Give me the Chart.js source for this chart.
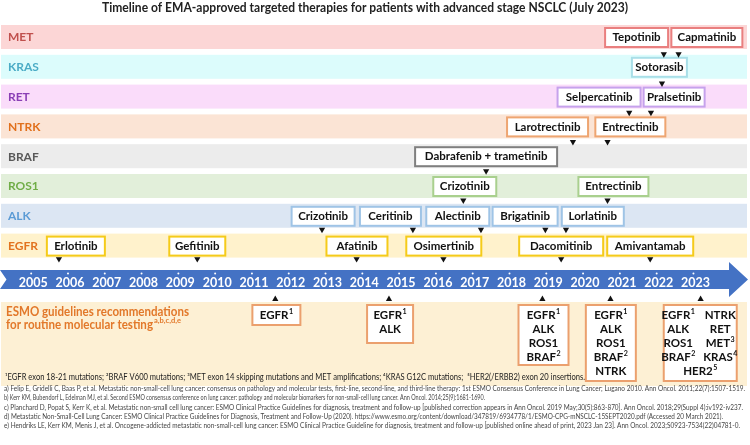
<!DOCTYPE html>
<html>
<head>
<meta charset="utf-8">
<script src="https://cdn.jsdelivr.net/npm/chart.js@4.4.0/dist/chart.umd.min.js"></script>
<style>
  html, body { margin: 0; padding: 0; background: #fff; }
  #wrap { width: 750px; height: 445px; position: relative; }
</style>
</head>
<body>
<div id="wrap"><canvas id="timeline"></canvas></div>
<script>
// ---- data ----
const years = [2005, 2006, 2007, 2008, 2009, 2010, 2011, 2012, 2013, 2014, 2015, 2016, 2017, 2018, 2019, 2020, 2021, 2022, 2023]
const biomarkers = ['MET', 'KRAS', 'RET', 'NTRK', 'BRAF', 'ROS1', 'ALK', 'EGFR']

// [biomarker, drug, approval date (fractional year)]
const approvals = [
  ['MET', 'Tepotinib', 2022.14],
  ['MET', 'Capmatinib', 2022.54],
  ['KRAS', 'Sotorasib', 2022.09],
  ['RET', 'Selpercatinib', 2021.20],
  ['RET', 'Pralsetinib', 2021.79],
  ['NTRK', 'Larotrectinib', 2019.67],
  ['NTRK', 'Entrectinib', 2020.61],
  ['BRAF', 'Dabrafenib + trametinib', 2017.31],
  ['ROS1', 'Crizotinib', 2016.69],
  ['ROS1', 'Entrectinib', 2020.61],
  ['ALK', 'Crizotinib', 2012.85],
  ['ALK', 'Ceritinib', 2015.32],
  ['ALK', 'Alectinib', 2017.17],
  ['ALK', 'Brigatinib', 2018.92],
  ['ALK', 'Lorlatinib', 2019.48],
  ['EGFR', 'Erlotinib', 2005.70],
  ['EGFR', 'Gefitinib', 2009.46],
  ['EGFR', 'Afatinib', 2013.79],
  ['EGFR', 'Osimertinib', 2016.15],
  ['EGFR', 'Dacomitinib', 2019.35],
  ['EGFR', 'Amivantamab', 2021.77],
]

// ESMO guideline publications and the biomarkers they recommend testing
const esmoDates = [2011.58, 2014.67, 2018.84, 2020.69, 2023.14]
const esmoGenes = [
  ['EGFR^1'],
  ['EGFR^1', 'ALK'],
  ['EGFR^1', 'ALK', 'ROS1', 'BRAF^2'],
  ['EGFR^1', 'ALK', 'ROS1', 'BRAF^2', 'NTRK'],
  ['EGFR^1', 'ALK', 'ROS1', 'BRAF^2', 'NTRK', 'RET', 'MET^3', 'KRAS^4', 'HER2^5'],
]

const title = 'Timeline of EMA-approved targeted therapies for patients with advanced stage NSCLC (July 2023)'
const footnote = '\u00b9EGFR exon 18-21 mutations; \u00b2BRAF V600 mutations; \u00b3MET exon 14 skipping mutations and MET amplifications; \u2074KRAS G12C mutations;  \u2075HER2(/ERBB2) exon 20 insertions.'
const references = [
  'a) Felip E, Gridelli C, Baas P, et al. Metastatic non-small-cell lung cancer: consensus on pathology and molecular tests, first-line, second-line, and third-line therapy: 1st ESMO Consensus Conference in Lung Cancer; Lugano 2010. Ann Oncol. 2011;22(7):1507-1519.',
  'b) Kerr KM, Bubendorf L, Edelman MJ, et al. Second ESMO consensus conference on lung cancer: pathology and molecular biomarkers for non-small-cell lung cancer. Ann Oncol. 2014;25(9):1681-1690.',
  'c) Planchard D, Popat S, Kerr K, et al. Metastatic non-small cell lung cancer: ESMO Clinical Practice Guidelines for diagnosis, treatment and follow-up [published correction appears in Ann Oncol. 2019 May;30(5):863-870]. Ann Oncol. 2018;29(Suppl 4):iv192-iv237.',
  'd) Metastatic Non-Small-Cell Lung Cancer: ESMO Clinical Practice Guidelines for Diagnosis, Treatment and Follow-Up (2020). https://www.esmo.org/content/download/347819/6934778/1/ESMO-CPG-mNSCLC-15SEPT2020.pdf (Accessed 20 March 2021).',
  'e) Hendriks LE, Kerr KM, Menis J, et al. Oncogene-addicted metastatic non-small-cell lung cancer: ESMO Clinical Practice Guideline for diagnosis, treatment and follow-up [published online ahead of print, 2023 Jan 23]. Ann Oncol. 2023;S0923-7534(22)04781-0.',
]

// ---- layout / styles ----
const FONT = 'Lato, "Open Sans", sans-serif'
const laneColors = {
  MET:  { bg: '#fcd6d6', text: '#c0504d', border: '#e97f7f' },
  KRAS: { bg: '#dcfcfc', text: '#4bacc6', border: '#a9dfe8' },
  RET:  { bg: '#fadcfa', text: '#8a3fb5', border: '#c6a2ec' },
  NTRK: { bg: '#fbe4d5', text: '#e1701c', border: '#eea571' },
  BRAF: { bg: '#ececec', text: '#595959', border: '#7f7f7f' },
  ROS1: { bg: '#e2efda', text: '#70ad47', border: '#a9d08e' },
  ALK:  { bg: '#dce6f3', text: '#5b9bd5', border: '#9fc4e6' },
  EGFR: { bg: '#fff2cc', text: '#e2731f', border: '#f5cb1a' },
}
// label box [centre (year units), width px], same order as approvals
const boxLayout = [
  [2021.40, 63], [2023.31, 71], [2022.02, 55], [2020.38, 83], [2022.42, 61],
  [2018.98, 81], [2021.23, 70], [2017.31, 142], [2016.73, 63], [2020.77, 70],
  [2012.88, 63], [2014.71, 61], [2016.54, 63], [2018.37, 65], [2020.21, 62],
  [2006.16, 58], [2009.46, 56], [2013.80, 61], [2016.16, 75], [2019.35, 84], [2021.77, 86],
]
// ESMO box [centre (year units), width px, height px]
const esmoLayout = [[2011.61, 48, 20], [2014.70, 46, 38], [2018.87, 50, 60], [2020.70, 50, 76], [2023.13, 73, 76]]
const refWidths = [741, 481, 739, 719, 736]

const LANE_TOP = 25, LANE_STEP = 29.8, LANE_H = 24
const laneTop = (name) => LANE_TOP + biomarkers.indexOf(name) * LANE_STEP

// x scale: year label centres at 29.5px (2005) with 37.19px per year
const X_MIN = 2005 - 29.5 / 37.19
const X_MAX = 2005 + 720.5 / 37.19

function textSup(ctx, txt, cx, cy, size, color) {
  var parts = txt.split('^')
  ctx.fillStyle = color
  ctx.textBaseline = 'middle'
  ctx.textAlign = 'left'
  ctx.font = 'bold ' + size + 'px ' + FONT
  var wb = ctx.measureText(parts[0]).width
  var ss = size * 0.62
  ctx.font = 'bold ' + ss + 'px ' + FONT
  var ws = parts[1] ? ctx.measureText(parts[1]).width + 0.5 : 0
  var x0 = cx - (wb + ws) / 2
  ctx.font = 'bold ' + size + 'px ' + FONT
  ctx.fillText(parts[0], x0, cy)
  if (parts[1]) {
    ctx.font = 'bold ' + ss + 'px ' + FONT
    ctx.fillText(parts[1], x0 + wb + 0.5, cy - size * 0.32)
  }
}

function box(ctx, x, y, w, h, stroke) {
  ctx.fillStyle = '#fff'
  ctx.fillRect(x, y, w, h)
  ctx.strokeStyle = stroke
  ctx.lineWidth = 2
  ctx.strokeRect(x, y, w, h)
}

const backdrop = {
  id: 'backdrop',
  beforeDatasetsDraw(chart) {
    var ctx = chart.ctx
    var xs = chart.scales.x
    ctx.save()

    // title
    ctx.fillStyle = '#222'
    ctx.font = 'bold 13.5px ' + FONT
    ctx.textAlign = 'center'
    ctx.textBaseline = 'middle'
    ctx.fillText(title, 365, 8, 526)

    // biomarker lanes
    biomarkers.forEach((b) => {
      var t = laneTop(b)
      ctx.fillStyle = laneColors[b].bg
      ctx.fillRect(1, t, 746, LANE_H)
      ctx.fillStyle = laneColors[b].text
      ctx.font = 'bold 12px ' + FONT
      ctx.textAlign = 'left'
      ctx.textBaseline = 'middle'
      ctx.fillText(b, 8, t + LANE_H / 2 + 0.5)
    })

    // drug boxes
    approvals.forEach((a, i) => {
      var t = laneTop(a[0])
      var cx = xs.getPixelForValue(boxLayout[i][0])
      var w = boxLayout[i][1]
      box(ctx, cx - w / 2, t + 3, w, 19, laneColors[a[0]].border)
      ctx.fillStyle = '#111'
      ctx.font = 'bold 11.5px ' + FONT
      ctx.textAlign = 'center'
      ctx.textBaseline = 'middle'
      ctx.fillText(a[1], cx, t + 12.5)
    })

    // timeline arrow
    ctx.fillStyle = '#4472c4'
    ctx.beginPath()
    ctx.moveTo(0, 270)
    ctx.lineTo(729, 270)
    ctx.lineTo(729, 262)
    ctx.lineTo(748, 279.5)
    ctx.lineTo(729, 297)
    ctx.lineTo(729, 289)
    ctx.lineTo(0, 289)
    ctx.lineTo(6.5, 279.5)
    ctx.closePath()
    ctx.fill()

    years.forEach((y) => {
      var px = xs.getPixelForValue(y)
      ctx.fillStyle = '#fff'
      ctx.font = 'bold 12.5px ' + FONT
      ctx.textAlign = 'center'
      ctx.textBaseline = 'middle'
      ctx.fillText(String(y), px, 282.5)
      ctx.beginPath()
      ctx.arc(px - 2, 273.5, 1, 0, Math.PI * 2)
      ctx.fill()
    })

    // ESMO panel
    ctx.fillStyle = '#fdf0d4'
    ctx.fillRect(1, 302, 746, 84)
    ctx.fillStyle = '#e2782a'
    ctx.font = 'bold 12.5px ' + FONT
    ctx.textAlign = 'left'
    ctx.textBaseline = 'middle'
    ctx.fillText('ESMO guidelines recommendations', 6, 312, 183)
    ctx.fillText('for routine molecular testing', 6, 325, 147)
    var wl = Math.min(ctx.measureText('for routine molecular testing').width, 147)
    ctx.font = 'bold 7.5px ' + FONT
    ctx.fillText('a,b,c,d,e', 6 + wl + 1, 321)

    esmoLayout.forEach((l, i) => {
      var cx = xs.getPixelForValue(l[0])
      box(ctx, cx - l[1] / 2, 305, l[1], l[2], '#eba06e')
      var genes = esmoGenes[i]
      if (genes.length > 5) {
        for (var k = 0; k < 4; k++) {
          textSup(ctx, genes[k], cx - 22, 315 + k * 14, 11.5, '#111')
          textSup(ctx, genes[k + 4], cx + 20, 315 + k * 14, 11.5, '#111')
        }
        textSup(ctx, genes[8], cx, 315 + 4 * 14, 11.5, '#111')
      } else {
        genes.forEach((g, k) => textSup(ctx, g, cx, 315 + k * 14, 11.5, '#111'))
      }
    })

    // footnotes
    ctx.fillStyle = '#222'
    ctx.font = '8.5px ' + FONT
    ctx.textAlign = 'left'
    ctx.textBaseline = 'middle'
    ctx.fillText(footnote, 5, 377, 580)

    ctx.fillStyle = '#444'
    ctx.font = '7px ' + FONT
    references.forEach((r, i) => {
      ctx.fillText(r, 4, 389 + i * 9.2, refWidths[i])
    })
    ctx.restore()
  }
}

new Chart(document.getElementById('timeline'), {
  type: 'scatter',
  data: {
    datasets: [
      {
        label: 'EMA approval',
        data: approvals.map((a) => ({ x: a[2], y: laneTop(a[0]) + 26 })),
        pointStyle: 'triangle',
        rotation: 180,
        radius: 3.6,
        backgroundColor: '#111',
        borderWidth: 0,
      },
      {
        label: 'ESMO guideline',
        data: esmoDates.map((d) => ({ x: d, y: 300.5 })),
        pointStyle: 'triangle',
        radius: 3.6,
        backgroundColor: '#111',
        borderWidth: 0,
      },
    ],
  },
  options: {
    animation: false,
    responsive: true,
    maintainAspectRatio: false,
    devicePixelRatio: 1,
    events: [],
    layout: { padding: 0 },
    plugins: { legend: { display: false }, tooltip: { enabled: false } },
    scales: {
      x: { type: 'linear', min: X_MIN, max: X_MAX, display: false },
      y: { min: 0, max: 445, reverse: true, display: false },
    },
  },
  plugins: [backdrop],
})
</script>
</body>
</html>
